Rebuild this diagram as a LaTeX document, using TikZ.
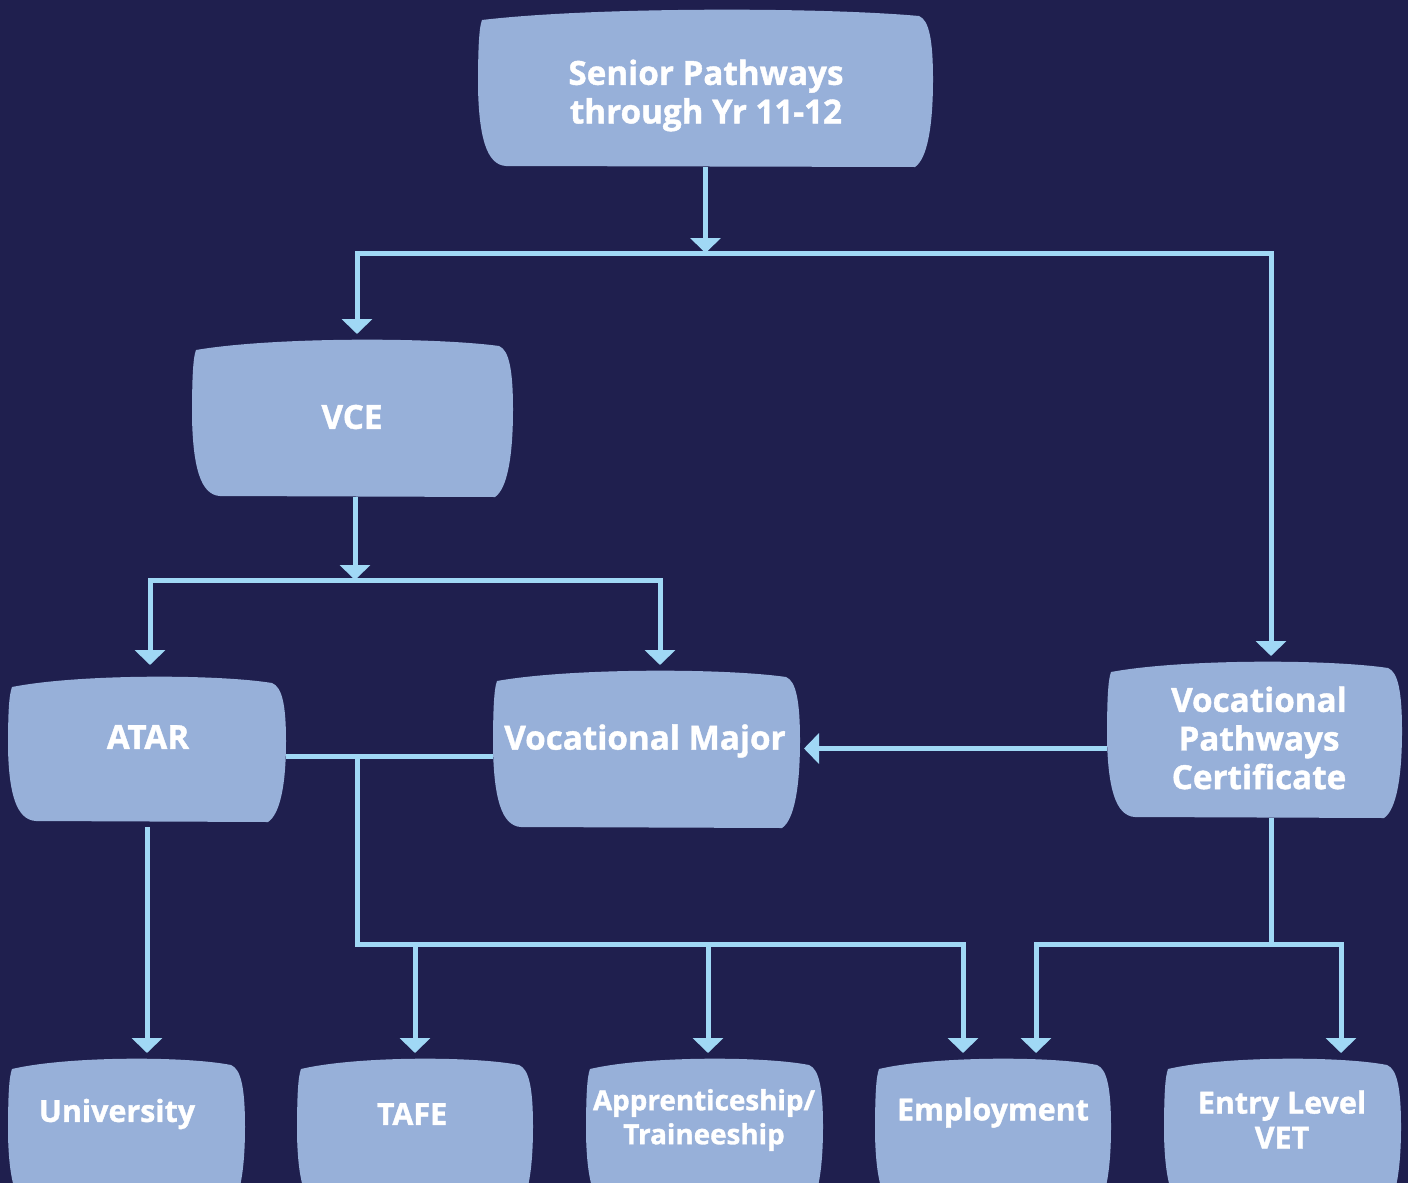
\documentclass[tikz,border=0pt]{standalone}
\usepackage{fontspec}
\setmainfont{Open Sans}[BoldFeatures={FakeBold=1.2}]
\usetikzlibrary{arrows.meta,calc}
\definecolor{bg}{HTML}{1F1F4E}
\definecolor{boxc}{HTML}{97B0D9}
\definecolor{linec}{HTML}{A0D8F5}
\newcommand\blob[1]{%
 \fill[boxc] let \p1=(#1.north west), \p2=(#1.south east), \p3=($(\p2)-(\p1)$) in
 ({\x1+2pt},{\y1-6pt})
 .. controls ({\x1+0.25*\x3},{\y1+0.5pt}) and ({\x2-0.25*\x3},{\y1+0.5pt}) .. ({\x2-7pt},{\y1-4pt})
 .. controls ({\x2-2pt},{\y1-6pt}) and ({\x2},{\y1+0.2*\y3}) .. ({\x2},{\y1+0.45*\y3})
 .. controls ({\x2},{\y1+0.75*\y3}) and ({\x2-3pt},{\y2+4pt}) .. ({\x2-9pt},{\y2})
 -- ({\x1+14pt},{\y2+0.5pt})
 .. controls ({\x1+4pt},{\y2+1pt}) and ({\x1+0.5pt},{\y2-0.2*\y3}) .. ({\x1},{\y2-0.5*\y3})
 .. controls ({\x1},{\y1+0.25*\y3}) and ({\x1+0.5pt},{\y1-10pt}) .. cycle;
}
\begin{document}
\begin{tikzpicture}[x=0.5pt,y=-0.5pt,
  box/.style={inner sep=0pt, outer sep=0pt, rectangle},
  txt/.style={text=white, font=\fontsize{16.6}{19.3}\selectfont\bfseries, align=center, inner sep=0pt},
  stxt/.style={text=white, font=\fontsize{15.2}{17.5}\selectfont\bfseries, align=center, inner sep=0pt},
  atxt/.style={text=white, font=\fontsize{13.9}{17}\selectfont\bfseries, align=center, inner sep=0pt},
  conn/.style={draw=linec, line width=2.5pt},
  arr/.style={conn, -{Triangle[width=15pt,length=7.5pt]}, shorten >=2pt},
]
\useasboundingbox (0,0) rectangle (1408,1183);
\fill[bg] (0,0) rectangle (1408,1183);
\clip (0,0) rectangle (1408,1183);

% box nodes
\node[box, minimum width=227.5pt, minimum height=79.5pt] (top) at (705.5,87.5) {};
\node[box, minimum width=160.5pt, minimum height=79.5pt] (vce) at (352.5,417.5) {};
\node[box, minimum width=139pt, minimum height=73.5pt] (atar) at (147,748.5) {};
\node[box, minimum width=153.5pt, minimum height=79.5pt] (vm) at (646.5,748.5) {};
\node[box, minimum width=147.5pt, minimum height=79pt] (vpc) at (1254.5,739) {};
\node[box, minimum width=118.5pt, minimum height=77.5pt] (uni) at (126.5,1134.5) {};
\node[box, minimum width=118pt, minimum height=77.5pt] (tafe) at (415,1134.5) {};
\node[box, minimum width=118.5pt, minimum height=77.5pt] (appr) at (704.5,1134.5) {};
\node[box, minimum width=118pt, minimum height=77.5pt] (emp) at (993,1134.5) {};
\node[box, minimum width=118.5pt, minimum height=77.5pt] (entry) at (1282.5,1134.5) {};

\foreach \bx in {top,vce,atar,vm,vpc,uni,tafe,appr,emp,entry} {\blob{\bx}}

% texts
\node[txt] (topt) at (706,95.5) {Senior Pathways\\through Yr 11-12};
\node[txt] (vcet) at (352,417) {VCE};
\node[txt] (atart) at (148,737) {ATAR};
\node[txt] (vmt) at (645,741) {Vocational Major};
\node[txt] (vpct) at (1259,738) {Vocational\\Pathways\\Certificate};
\node[stxt] (unit) at (117,1114) {University};
\node[stxt] (tafet) at (412,1114) {TAFE};
\node[atxt] (apprt) at (704,1120) {Apprenticeship/\\Traineeship};
\node[stxt] (empt) at (993,1112.5) {Employment};
\node[stxt] (entryt) at (1282,1119.5) {Entry Level\\VET};

% connectors
\coordinate (j1) at (705.5,253);
\draw[arr, shorten >=0pt] (top) -- (j1);
\draw[arr] (j1) -| ([xshift=2.25pt]vce.north);
\draw[arr] (j1) -| ([xshift=8.25pt]vpc.north);

\coordinate (j2) at (355,580);
\draw[arr, shorten >=0pt] (vce.south -| j2) -- (j2);
\draw[arr, shorten >=5pt] (j2) -| ([xshift=1.5pt]atar.north);
\draw[arr] (j2) -| ([xshift=6.75pt]vm.north);

\draw[arr] (vpc.west |- vm.east) -- (vm.east);

\coordinate (j3) at (357,756);
\coordinate (j4) at (357,944);
\draw[conn] (atar.east |- j3) -- (vm.west |- j3);
\draw[arr] (j3) -- (j4) -| ([xshift=-15pt]emp.north);
\draw[arr] (tafe.north |- j4) -- (tafe.north);
\draw[arr] ([xshift=1.75pt]appr.north |- j4) -- ([xshift=1.75pt]appr.north);

\draw[arr] ([yshift=-2.5pt]atar.south) -- (uni.north -| atar.south);

\coordinate (j6) at (1271,944);
\draw[conn] ([xshift=8.25pt]vpc.south) -- (j6);
\draw[arr] (j6) -| ([xshift=21.5pt]emp.north);
\draw[arr] (j6) -| ([xshift=29.25pt]entry.north);
\end{tikzpicture}
\end{document}
